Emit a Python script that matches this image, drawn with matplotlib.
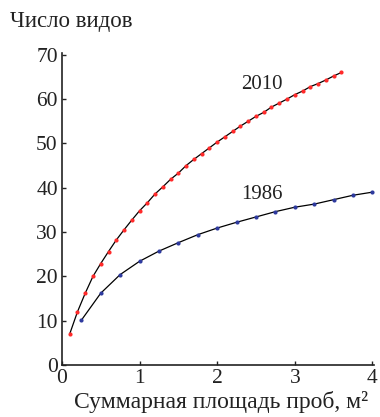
import matplotlib
matplotlib.use("Agg")
import matplotlib.pyplot as plt
import numpy as np

plt.rcParams['font.family'] = ['Liberation Serif', 'DejaVu Serif']

x2010 = [0.1, 0.2, 0.3, 0.4, 0.5, 0.6, 0.7, 0.8, 0.9, 1.0, 1.1, 1.2, 1.3, 1.4, 1.5, 1.6, 1.7, 1.8,
         1.9, 2.0, 2.1, 2.2, 2.3, 2.4, 2.5, 2.6, 2.7, 2.8, 2.9, 3.0, 3.1, 3.2, 3.3, 3.4, 3.5, 3.6]
y2010 = [7.0, 12.0, 16.2, 20.0, 22.9, 25.6, 28.2, 30.5, 32.7, 34.8, 36.6, 38.6, 40.2, 41.9, 43.3, 45.0,
         46.4, 47.7, 49.0, 50.3, 51.5, 52.7, 53.9, 55.0, 56.1, 57.0, 58.2, 59.1, 60.0, 61.0, 61.8,
         62.8, 63.5, 64.3, 65.2, 66.0]
x1986 = [0.25, 0.5, 0.75, 1.0, 1.25, 1.5, 1.75, 2.0, 2.25, 2.5, 2.75, 3.0, 3.25, 3.5, 3.75, 4.0]
y1986 = [10.1, 16.2, 20.4, 23.4, 25.7, 27.6, 29.4, 30.9, 32.2, 33.4, 34.6, 35.6, 36.3, 37.3, 38.3, 39.0]

xticks = [0, 1, 2, 3, 4]
yticks = [0, 10, 20, 30, 40, 50, 60, 70]

fig = plt.figure(figsize=(3.8, 4.17), dpi=100)
ax = fig.add_axes([0.163, 0.1247, 0.821, 0.7493])

ax.plot(x2010, y2010, color='black', lw=0.9, zorder=2)
ax.plot(x2010, y2010, 'o', color='#ff2a2a', ms=3, mew=0, zorder=3)
ax.plot(x1986, y1986, color='black', lw=0.9, zorder=2)
ax.plot(x1986, y1986, 'o', color='#2e3a9e', ms=3, mew=0, zorder=3)

ax.text(2.58, 63.4, '2010', ha='center', va='center', fontsize=15, color='#222222')
ax.text(2.58, 38.4, '1986', ha='center', va='center', fontsize=15, color='#222222')

ax.set_xlim(0, 4.02)
ax.set_ylim(0, 70.5)
ax.set_xticks(xticks)
ax.set_yticks(yticks)
ax.tick_params(direction='in', length=3, width=1, labelsize=15.5, colors='#222222', pad=3)
for s in ['top', 'right']:
    ax.spines[s].set_visible(False)
for s in ['left', 'bottom']:
    ax.spines[s].set_linewidth(1.2)
    ax.spines[s].set_color('#222222')

fig.text(0.582, 0.022, 'Суммарная площадь проб, м²', fontsize=17, color='#222222',
         ha='center', va='baseline')
fig.text(0.026, 0.935, 'Число видов', fontsize=16.5, color='#222222', ha='left', va='baseline')

fig.savefig('out.png', dpi=100)
